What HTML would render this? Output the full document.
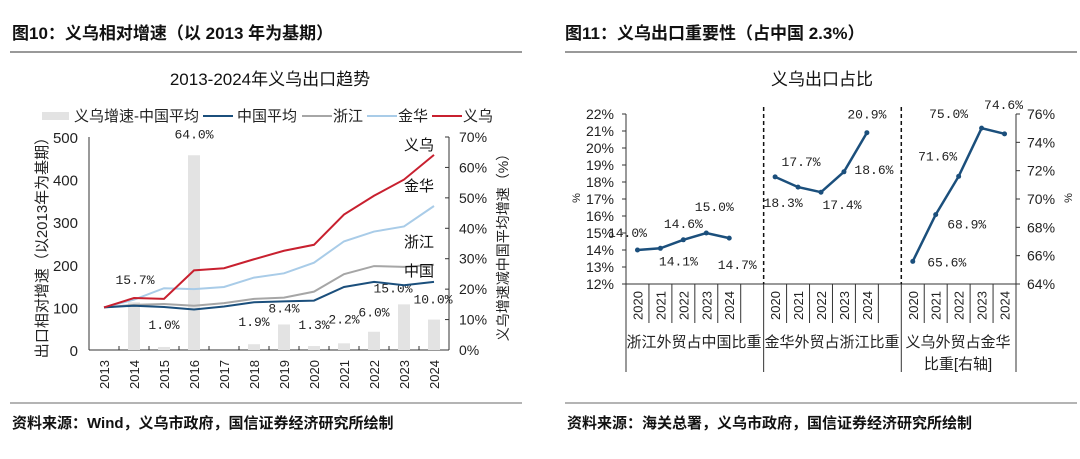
<!DOCTYPE html>
<html><head><meta charset="utf-8">
<style>
body{margin:0;background:#fff;width:1080px;height:454px;overflow:hidden;font-family:"Liberation Sans","Noto Sans CJK SC",sans-serif;}
svg text{font-family:"Liberation Sans","Noto Sans CJK SC",sans-serif;}
.mono{font-family:"Liberation Mono","Noto Sans CJK SC",monospace !important;}
</style></head><body>
<svg id="s" width="1080" height="454" viewBox="0 0 1080 454" xmlns="http://www.w3.org/2000/svg">
<text x="12" y="39" font-size="17" font-weight="bold" fill="#111">图10：义乌相对增速（以 2013 年为基期）</text>
<line x1="10" y1="52" x2="522" y2="52" stroke="#333" stroke-width="1"/>
<text x="270" y="85" font-size="17" text-anchor="middle" fill="#111">2013-2024年义乌出口趋势</text>
<text x="565" y="39" font-size="17" font-weight="bold" fill="#111">图11：义乌出口重要性（占中国 2.3%）</text>
<line x1="565" y1="52" x2="1077" y2="52" stroke="#333" stroke-width="1"/>
<text x="822" y="85" font-size="17" text-anchor="middle" fill="#111">义乌出口占比</text>
<line x1="10" y1="403" x2="522" y2="403" stroke="#888" stroke-width="1.2"/>
<line x1="565" y1="403" x2="1077" y2="403" stroke="#888" stroke-width="1.2"/>
<text x="12" y="428" font-size="15" font-weight="bold" fill="#111">资料来源：Wind，义乌市政府，国信证券经济研究所绘制</text>
<text x="567" y="428" font-size="15" font-weight="bold" fill="#111">资料来源：海关总署，义乌市政府，国信证券经济研究所绘制</text>
<g id="left"></g>
<g id="right"></g>
</svg>
<script>
const years=["2013","2014","2015","2016","2017","2018","2019","2020","2021","2022","2023","2024"];
const yiwu=[100,122,120,187,192,213,233,247,318,362,400,458];
const jinhua=[100,118,145,143,148,170,180,205,255,278,290,338];
const zhejiang=[100,106,108,104,110,120,123,137,178,197,195,200];
const china=[100,104,101,95,102,112,114,116,148,160,152,160];
const diffVals=[null,15.7,1.0,64.0,null,1.9,8.4,1.3,2.2,6.0,15.0,10.0];
const diffLabels=["","15.7%","1.0%","64.0%","","1.9%","8.4%","1.3%","2.2%","6.0%","15.0%","10.0%"];
const leftTicks=[0,100,200,300,400,500];
const rightTicksPct=[0,10,20,30,40,50,60,70];
const NS="http://www.w3.org/2000/svg";
function mk(tag,attrs,parent,txt){const e=document.createElementNS(NS,tag);for(const k in attrs)e.setAttribute(k,attrs[k]);if(txt!==undefined)e.textContent=txt;parent.appendChild(e);return e;}
const L=document.getElementById('left');
const x0=89,x1=449,yb=350,yt=137;
const xL=i=>x0+(x1-x0)/years.length*(i+0.5);
const yL=v=>yb-(yb-yt)*v/500;
const yR=v=>yb-(yb-yt)*v/70;
// axes
let e;
e=mk('line',{x1:x0,y1:yt,x2:x0,y2:yb,stroke:'#333'},L);


e=mk('line',{x1:x0,y1:yb,x2:x1,y2:yb,stroke:'#333'},L);


e=mk('line',{x1:x1,y1:yt,x2:x1,y2:yb,stroke:'#333'},L);


leftTicks.forEach(t=>{
 e=mk('text',{x:78,y:yL(t)+6,'font-size':15,'text-anchor':'end',fill:'#222'},L,String(t));
 
 
});
rightTicksPct.forEach(t=>{
 mk('line',{x1:x1-4,y1:yR(t),x2:x1,y2:yR(t),stroke:'#333'},L);
 e=mk('text',{x:459,y:yR(t)+5,'font-size':14,fill:'#222'},L,t+'%');
 
 
});
for(let i=0;i<=years.length;i++){mk('line',{x1:x0+30*i,y1:yb,x2:x0+30*i,y2:yb-4,stroke:'#333'},L);}
// bars
diffVals.forEach((v,i)=>{
 if(v===null)return;
 e=mk('rect',{x:xL(i)-6,y:yR(v),width:12,height:yb-yR(v),fill:'#e3e3e3'},L);
 
 
});
const barLabelOffset=[[0,0],[1,-18],[0,-18],[0,-17],[0,0],[0,-18],[0,-12],[0,-17],[0,-20],[0,-15],[-11,-12],[-1,-16]];
diffVals.forEach((v,i)=>{
 if(v===null)return;
 e=mk('text',{x:xL(i)+barLabelOffset[i][0],y:yR(v)+barLabelOffset[i][1],'font-size':13,'text-anchor':'middle',fill:'#222',class:'mono'},L,diffLabels[i]);
 
 
});
function line(data,color,name){
 const p=data.map((v,i)=>(i?'L':'M')+xL(i)+' '+yL(v)).join(' ');
 const el=mk('path',{d:p,fill:'none',stroke:color,'stroke-width':2},L);
 
 
}
line(zhejiang,'#a6a6a6','zhejiang-line');
line(jinhua,'#a9cce8','jinhua-line');
line(china,'#1b4f7c','china-line');
line(yiwu,'#c8202f','yiwu-line');
[['义乌',yiwu],['金华',jinhua],['浙江',zhejiang],['中国',china]].forEach(([n,d],k)=>{
 const dy=[-5,-15,-18,-6][k];
 e=mk('text',{x:419,y:yL(d[11])+dy,'font-size':15,'text-anchor':'middle',fill:'#111'},L,n);
 
 
});
years.forEach((y,i)=>{
 e=mk('text',{transform:`translate(${xL(i)+5},389) rotate(-90)`,'font-size':13,fill:'#222'},L,y);
 
 
});
e=mk('text',{transform:'translate(47,244) rotate(-90)','font-size':15,'text-anchor':'middle',fill:'#222'},L,'出口相对增速（以2013年为基期）');


e=mk('text',{transform:'translate(508,244) rotate(-90)','font-size':14,'text-anchor':'middle',fill:'#222'},L,'义乌增速减中国平均增速（%）');


// legend
const lg=[['bar','#e3e3e3','义乌增速-中国平均',42,74],['line','#1b4f7c','中国平均',203,237],['line','#a6a6a6','浙江',302,333],['line','#a9cce8','金华',367,398],['line','#c8202f','义乌',432,463]];
lg.forEach(([t,c,n,sx,tx])=>{
 const g=mk('g',{},L);
 
 
 if(t==='bar')mk('rect',{x:sx,y:112,width:27,height:8,fill:c},g);
 else mk('line',{x1:sx,y1:116,x2:sx+30,y2:116,stroke:c,'stroke-width':2},g);
 mk('text',{x:tx,y:121,'font-size':15,fill:'#222'},g,n);
});

// RIGHT CHART
const R=document.getElementById('right');
const rYears=["2020","2021","2022","2023","2024"];
const zjShare=[14.0,14.1,14.6,15.0,14.7];
const jhShare=[18.3,17.7,17.4,18.6,20.9];
const ywShare=[65.6,68.9,71.6,75.0,74.6];
const zjLabels=["14.0%","14.1%","14.6%","15.0%","14.7%"];
const jhLabels=["18.3%","17.7%","17.4%","18.6%","20.9%"];
const ywLabels=["65.6%","68.9%","71.6%","75.0%","74.6%"];
const leftPctTicks=[12,13,14,15,16,17,18,19,20,21,22];
const rightPctTicks=[64,66,68,70,72,74,76];
const ax0=626,ax1=1016,ryb=284,ryt=114,slot=(ax1-ax0)/17;
const yRL=v=>ryb-(ryb-ryt)*(v-12)/10;
const yRR=v=>ryb-(ryb-ryt)*(v-64)/12;
const groupStart=[0,6,12];
const xR=(g,i)=>ax0+slot*(groupStart[g]+i+0.5);
e=mk('line',{x1:ax0,y1:ryt,x2:ax0,y2:372,stroke:'#333'},R);


e=mk('line',{x1:ax1,y1:ryt,x2:ax1,y2:372,stroke:'#333'},R);


e=mk('line',{x1:ax0,y1:ryb,x2:ax1,y2:ryb,stroke:'#333'},R);


leftPctTicks.forEach(t=>{
 mk('line',{x1:ax0-4,y1:yRL(t),x2:ax0,y2:yRL(t),stroke:'#333'},R);
 e=mk('text',{x:614,y:yRL(t)+5,'font-size':14,'text-anchor':'end',fill:'#222'},R,t+'%');
 
 
});
rightPctTicks.forEach(t=>{
 mk('line',{x1:ax1,y1:yRR(t),x2:ax1+4,y2:yRR(t),stroke:'#333'},R);
 e=mk('text',{x:1027,y:yRR(t)+5,'font-size':14,fill:'#222'},R,t+'%');
 
 
});
e=mk('text',{transform:'translate(580,198) rotate(-90)','font-size':11,'text-anchor':'middle',fill:'#222'},R,'%');


e=mk('text',{transform:'translate(1072,198) rotate(-90)','font-size':11,'text-anchor':'middle',fill:'#222'},R,'%');


// slot ticks
for(let s=1;s<17;s++){
 const x=ax0+slot*s;
 if(s===6||s===12){
  e=mk('line',{x1:x,y1:107,x2:x,y2:ryb,stroke:'#111','stroke-width':1.5,'stroke-dasharray':'4,3'},R);
  
  
  mk('line',{x1:x,y1:ryb,x2:x,y2:372,stroke:'#333'},R);
 } else mk('line',{x1:x,y1:ryb,x2:x,y2:323,stroke:'#333'},R);
}
[0,1,2].forEach(g=>rYears.forEach((y,i)=>{
 e=mk('text',{transform:`translate(${xR(g,i)+5},320) rotate(-90)`,'font-size':13,fill:'#222'},R,y);
 
 
}));
[['浙江外贸占中国比重',694,347],['金华外贸占浙江比重',832,347],['义乌外贸占金华',958,347],['比重[右轴]',958,369]].forEach(([t,x,y])=>{
 e=mk('text',{x:x,y:y,'font-size':15,'text-anchor':'middle',fill:'#222'},R,t);
 
 
});
const labelOff=[
 [[-10,-18],[18,12],[0,-17],[8,-27],[8,26]],
 [[8,25],[3,-26],[21,12],[30,-3],[0,-19]],
 [[34,0],[31,9],[-21,-21],[-33,-15],[-1,-30]]];
function rline(g,data,yf,labels,name){
 const p=data.map((v,i)=>(i?'L':'M')+xR(g,i)+' '+yf(v)).join(' ');
 e=mk('path',{d:p,fill:'none',stroke:'#1b4f7c','stroke-width':2.5},R);
 
 
 data.forEach((v,i)=>{
  e=mk('circle',{cx:xR(g,i),cy:yf(v),r:2.5,fill:'#1b4f7c'},R);
  
  
  e=mk('text',{x:xR(g,i)+labelOff[g][i][0],y:yf(v)+labelOff[g][i][1]+5,'font-size':13,'text-anchor':'middle',fill:'#222',class:'mono'},R,labels[i]);
  
  
 });
}
rline(0,zjShare,yRL,zjLabels,'zhejiang-share-line');
rline(1,jhShare,yRL,jhLabels,'jinhua-share-line');
rline(2,ywShare,yRR,ywLabels,'yiwu-share-line');
</script>
</body></html>
